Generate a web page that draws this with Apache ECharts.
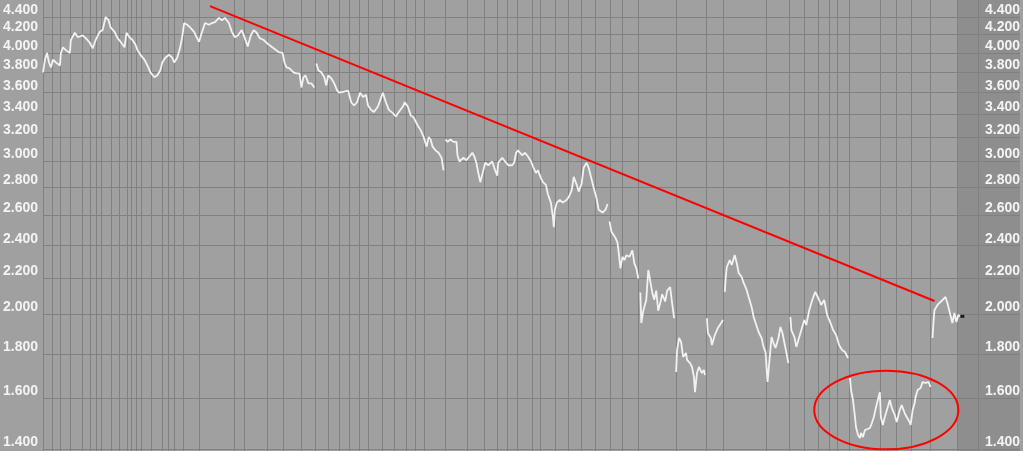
<!DOCTYPE html>
<html>
<head>
<meta charset="utf-8">
<script src="https://cdn.jsdelivr.net/npm/echarts@6/dist/echarts.min.js"></script>
<style>
html, body { margin: 0; padding: 0; background: #a0a0a0; }
#chart { width: 1023px; height: 451px; }
</style>
</head>
<body>
<div id="chart"></div>
<script>
"use strict";

// price levels on the log axis
var levels = [1.4, 1.6, 1.8, 2.0, 2.2, 2.4, 2.6, 2.8, 3.0, 3.2, 3.4, 3.6, 3.8, 4.0, 4.2, 4.4];

// period boundaries (bar index) drawn as vertical grid lines
var periods = [0, 9, 17, 27, 39, 48, 54, 59, 69, 77, 85, 89, 94, 99, 109, 120, 126, 132, 141, 157,
    192, 202, 226, 242, 260, 274, 287, 298, 308, 318, 327, 341, 353, 365, 375, 384, 405, 427, 444,
    457, 467, 477, 492, 500, 515, 528, 542, 556, 571, 583, 599, 637, 667, 684, 728, 751, 766, 780,
    791, 799, 811, 842, 859, 874, 893, 920, 941];

// bar index / close (null = contract roll, line broken)
var days = [0, 2, 4, 6, 8, 10, 13, 17, 18, 20, 23, 27, 28, 32, 35, 40, 43, 47, 50, 53, 57, 60, 63, 66, 68,
    72, 75, 78, 82, 84, 87, 90, 93, 95, 98, 102, 105, 108, 112, 115, 118, 120, 123, 127, 130, 132, 135,
    138, 140, 142, 145, 148, 152, 155, 157, 160, 163, 167, 170, 173, 177, 180, 183, 187, 190, 193, 196,
    200, 203, 206, 209, 212, 215, 218, 222, 227, 232, 237, 241, 243, 245, 248, 252, 255, 258, 260, 262,
    264, 267, 270, 273, 274,
    275, 277, 280, 283, 285, 287, 290, 293, 296, 298, 303, 307, 310, 313, 316, 319, 322, 325, 327, 330,
    333, 337, 340, 342, 345, 348, 352, 355, 358, 362, 364, 367, 370, 373, 377, 380, 383, 386, 388, 390,
    392, 395, 398, 401, 403, 404,
    405, 407, 410, 413, 416, 417, 419, 423, 426, 429, 432, 434, 436, 438, 440, 443, 445, 448, 452, 454,
    457, 458, 462, 465, 468, 472, 474, 476, 478, 482, 485, 488, 491, 493, 496, 498, 501, 503, 506, 508,
    511, 513, 514, 515, 517, 520, 523, 527, 529, 532, 534, 537, 539, 542, 544, 547, 549, 552, 554, 557,
    559, 563, 566, 568, 569,
    570, 572, 574, 576, 578, 579, 581, 583, 585, 587, 590, 593, 595, 597, 599, 600,
    601, 602, 604, 607, 609, 611, 613, 615, 617, 619, 621, 623, 626, 628, 631, 633, 635, 636,
    637, 638, 640, 642, 644, 647, 648, 651, 653, 655, 656, 658, 660, 663, 665, 666, 667,
    668, 669, 672, 673, 676, 679, 683, 684, 685,
    686, 687, 688, 691, 693, 696, 698, 700, 703, 705, 708, 710, 713, 715, 717, 720, 723, 725, 727, 729,
    731, 733, 735, 737, 740, 742, 744, 746, 748, 750, 751,
    752, 753, 756, 758, 760, 763, 766, 768, 771, 774, 777, 780, 783, 786, 789, 792, 795, 798, 801, 804,
    807, 810, 811,
    812, 813, 815, 817, 818, 820, 822, 823, 825, 827, 829, 832, 834, 836, 838, 840, 842, 843, 845, 847,
    850, 852, 854, 857, 859, 862, 864, 867, 869, 872, 873, 875, 877, 878, 880, 883, 885, 888, 891, 893,
    894,
    895, 896, 897, 900, 903, 905, 908, 910, 913, 915, 917, 919, 921, 923];

var closes = [3.80, 3.93, 4.00, 3.90, 3.85, 3.93, 3.90, 3.87, 4.00, 4.06, 4.03, 4.00, 4.14, 4.22, 4.17,
    4.19, 4.16, 4.11, 4.05, 4.14, 4.23, 4.25, 4.40, 4.36, 4.28, 4.23, 4.16, 4.12, 4.06, 4.22, 4.17, 4.14,
    4.09, 4.03, 3.98, 3.93, 3.87, 3.80, 3.75, 3.77, 3.82, 3.90, 3.95, 3.98, 3.95, 3.90, 3.95, 4.06, 4.17,
    4.33, 4.31, 4.28, 4.23, 4.16, 4.12, 4.23, 4.33, 4.31, 4.33, 4.34, 4.39, 4.36, 4.39, 4.33, 4.23, 4.17,
    4.19, 4.25, 4.16, 4.07, 4.19, 4.25, 4.22, 4.16, 4.14, 4.09, 4.05, 4.01, 4.00, 3.90, 3.85, 3.84, 3.80,
    3.79, 3.79, 3.65, 3.75, 3.77, 3.69, 3.69, 3.65, null,
    3.89, 3.82, 3.80, 3.75, 3.67, 3.77, 3.74, 3.69, 3.62, 3.60, 3.61, 3.62, 3.51, 3.48, 3.51, 3.60, 3.56,
    3.58, 3.48, 3.44, 3.42, 3.47, 3.55, 3.60, 3.51, 3.44, 3.41, 3.38, 3.42, 3.47, 3.51, 3.47, 3.39, 3.37,
    3.30, 3.26, 3.20, 3.12, 3.20, 3.18, 3.12, 3.09, 3.07, 3.03, 2.93, null,
    3.18, 3.16, 3.18, 3.16, 3.16, 3.05, 3.00, 3.03, 3.01, 3.04, 3.07, 3.04, 2.99, 2.91, 2.84, 2.93, 2.99,
    2.97, 3.00, 2.95, 2.89, 2.99, 3.03, 3.00, 2.97, 2.97, 2.99, 3.07, 3.09, 3.05, 3.07, 3.04, 3.00, 2.96,
    2.91, 2.93, 2.87, 2.84, 2.82, 2.75, 2.69, 2.59, 2.52, 2.64, 2.69, 2.71, 2.69, 2.71, 2.73, 2.78, 2.88,
    2.82, 2.77, 2.83, 2.95, 2.99, 2.95, 2.86, 2.80, 2.72, 2.64, 2.62, 2.64, 2.68, null,
    2.56, 2.49, 2.47, 2.45, 2.42, 2.37, 2.26, 2.33, 2.31, 2.34, 2.33, 2.37, 2.29, 2.26, 2.20, null,
    2.12, 1.955, 2.02, 2.08, 2.25, 2.26, 2.12, 2.08, 2.13, 2.02, 2.06, 2.11, 2.07, 2.13, 2.15, 2.06, 1.98, null,
    1.717, 1.82, 1.88, 1.86, 1.787, 1.806, 1.773, 1.758, 1.74, 1.694, 1.628, 1.712, 1.74, 1.712, 1.726, 1.703, null,
    1.98, 1.904, 1.879, 1.844, 1.894, 1.929, 1.96, 1.971, null,
    2.123, 2.209, 2.268, 2.31, 2.28, 2.341, 2.292, 2.232, 2.209, 2.174, 2.134, 2.095, 2.04, 1.987, 1.955,
    1.909, 1.879, 1.835, 1.81, 1.672, 1.773, 1.884, 1.854, 1.83, 1.879, 1.935, 1.904, 1.854, 1.806, 1.758, null,
    1.987, 1.919, 1.884, 1.835, 1.869, 1.919, 1.971, 1.945, 2.024, 2.078, 2.123, 2.089, 2.051, 2.078,
    1.997, 1.96, 1.919, 1.894, 1.844, 1.82, 1.81, 1.782, null,
    1.69, 1.637, 1.594, 1.524, 1.484, 1.453, 1.441, 1.461, 1.445, 1.472, 1.465, 1.48, 1.50, 1.524, 1.561,
    1.594, 1.628, 1.524, 1.492, 1.524, 1.565, 1.594, 1.561, 1.532, 1.504, 1.552, 1.573, 1.54, 1.524,
    1.504, 1.492, 1.552, 1.581, 1.607, 1.637, 1.646, 1.672, 1.668, 1.672, 1.65, null,
    1.879, 1.96, 2.024, 2.051, 2.067, 2.078, 2.095, 2.062, 1.997, 1.955, 2.008, 1.96, 1.997, 1.99];

// resistance trend line (bar, price)
var trendDays = [168, 897];
var trendPrices = [4.529, 2.0725];

// circled base: bar range and price range
var circleDays = [776, 921];
var circlePrices = [1.7229, 1.3989];

// right hand shaded zone
var zoneDays = [920, 983];

var priceData = days.map(function (d, i) { return [d, closes[i]]; });
var trendData = trendDays.map(function (d, i) { return [d, trendPrices[i]]; });
var lastIdx = days.length - 1;

var gridColor = "#808080";
var labelStyle = {
    color: "#f4f4f4",
    fontFamily: "Liberation Sans",
    fontWeight: "bold",
    fontSize: 14,
    lineHeight: 14,
    verticalAlign: "bottom"
};

function yAxisBase(pos) {
    return {
        type: "log",
        logBase: 10,
        position: pos,
        min: 1.3926,
        max: 4.6027,
        z: 3,
        axisLine: {show: false},
        axisTick: {show: false, customValues: levels},
        axisLabel: Object.assign({
            show: true,
            customValues: levels,
            formatter: function (v) { return Number(v).toFixed(3); }
        }, labelStyle),
        splitLine: {show: false}
    };
}

var leftY = yAxisBase("left");
leftY.axisLabel.margin = 5;
leftY.splitLine = {show: true, lineStyle: {color: gridColor, width: 1}};

var rightY = yAxisBase("right");
rightY.axisLabel.inside = true;
rightY.axisLabel.margin = 35;
rightY.axisLabel.align = "left";

var chart = echarts.init(document.getElementById("chart"));
chart.setOption({
    backgroundColor: "#a0a0a0",
    animation: false,
    grid: {left: 40, right: 0, top: 0, bottom: 0, containLabel: false},
    xAxis: {
        type: "value",
        min: 0,
        max: 983,
        z: 3,
        axisLine: {show: false},
        axisTick: {show: false, customValues: periods},
        axisLabel: {show: false},
        splitLine: {show: true, lineStyle: {color: gridColor, width: 1}}
    },
    yAxis: [leftY, rightY],
    series: [
        {
            name: "zone",
            type: "line",
            z: 1,
            data: [],
            markArea: {
                silent: true,
                z: 1,
                itemStyle: {color: "#8e8e8e"},
                data: [[{xAxis: zoneDays[0]}, {xAxis: zoneDays[1]}]]
            }
        },
        {
            name: "price",
            type: "line",
            data: priceData,
            showSymbol: false,
            connectNulls: false,
            lineStyle: {color: "#f2f2f2", width: 1.8},
            z: 5
        },
        {
            name: "last",
            type: "scatter",
            data: [[days[lastIdx], closes[lastIdx]]],
            symbol: "rect",
            symbolSize: [4, 3],
            symbolOffset: [2, 0],
            itemStyle: {color: "#000"},
            z: 6
        },
        {
            name: "trend",
            type: "line",
            data: trendData,
            showSymbol: false,
            lineStyle: {color: "#ff0000", width: 2},
            z: 7
        },
        {
            name: "circle",
            type: "custom",
            data: [[circleDays[0], circleDays[1], circlePrices[0], circlePrices[1]]],
            renderItem: function (params, api) {
                var p1 = api.coord([api.value(0), api.value(2)]);
                var p2 = api.coord([api.value(1), api.value(3)]);
                return {
                    type: "ellipse",
                    shape: {
                        cx: (p1[0] + p2[0]) / 2,
                        cy: (p1[1] + p2[1]) / 2,
                        rx: Math.abs(p2[0] - p1[0]) / 2,
                        ry: Math.abs(p2[1] - p1[1]) / 2
                    },
                    style: {fill: "none", stroke: "#ff0000", lineWidth: 2}
                };
            },
            z: 8
        }
    ]
});
</script>
</body>
</html>
